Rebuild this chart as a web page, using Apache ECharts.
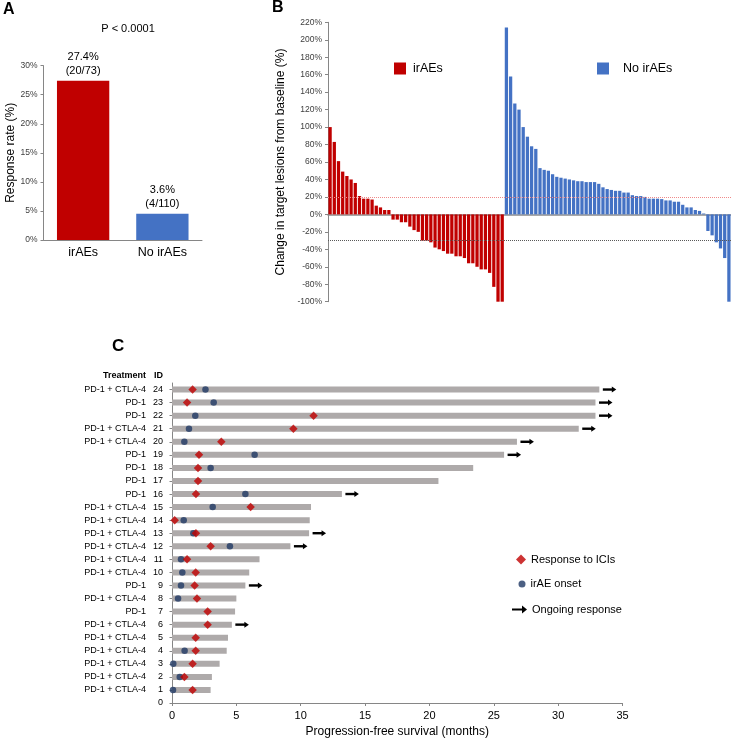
<!DOCTYPE html>
<html>
<head>
<meta charset="utf-8">
<script src="https://cdn.jsdelivr.net/npm/echarts@6/dist/echarts.min.js"></script>
<style>
html, body { margin: 0; padding: 0; background: #fff; }
#main { width: 731px; height: 742px; }
</style>
</head>
<body>
<div id="main"></div>
<script>
var FONT = '"Liberation Sans", Arial, sans-serif';
var RED = '#c00000', BLUE = '#4472c4', NAVY = '#1f3864', GRAY = '#aeaaaa', AXIS = '#868686';

// A: response rate
var rateCats = ['irAEs', 'No irAEs'];
var rateValues = [27.4, 4.5];
var rateLabels = ['27.4%', '3.6%'];
var rateCounts = ['(20/73)', '(4/110)'];

// B: waterfall, change in target lesions (%)
var changeIrAE = [100, 83, 61, 49, 44, 40, 36, 21, 18, 18, 17, 10, 8, 5, 5,
    -6, -6, -9, -9, -14, -18, -20, -30, -30, -32, -38, -40, -42, -45, -45,
    -48, -48, -50, -56, -56, -60, -63, -63, -67, -83, -100, -100];
var changeNoIrAE = [214, 158, 127, 120, 100, 89, 78, 75, 53, 51, 50, 46, 43, 42,
    41, 40, 39, 38, 38, 37, 37, 37, 35, 31, 29, 28, 27, 27, 25, 25, 22, 21, 21,
    20, 18, 18, 18, 17.5, 16, 16, 14.5, 14.5, 11, 8, 8, 5, 4, 1,
    -19, -24, -32, -39, -50, -100];
var refLines = [20, -30];

// C: swimmer plot
var patientIds = [1, 2, 3, 4, 5, 6, 7, 8, 9, 10, 11, 12, 13, 14, 15, 16, 17, 18, 19, 20, 21, 22, 23, 24];
var treatments = ['PD-1 + CTLA-4', 'PD-1 + CTLA-4', 'PD-1 + CTLA-4', 'PD-1 + CTLA-4',
    'PD-1 + CTLA-4', 'PD-1 + CTLA-4', 'PD-1', 'PD-1 + CTLA-4', 'PD-1', 'PD-1 + CTLA-4',
    'PD-1 + CTLA-4', 'PD-1 + CTLA-4', 'PD-1 + CTLA-4', 'PD-1 + CTLA-4', 'PD-1 + CTLA-4',
    'PD-1', 'PD-1', 'PD-1', 'PD-1', 'PD-1 + CTLA-4', 'PD-1 + CTLA-4', 'PD-1', 'PD-1', 'PD-1 + CTLA-4'];
var pfsMonths = [3.0, 3.1, 3.7, 4.25, 4.35, 4.65, 4.9, 5.0, 5.7, 6.0, 6.8, 9.2,
    10.65, 10.7, 10.8, 13.2, 20.7, 23.4, 25.8, 26.8, 31.6, 32.9, 32.9, 33.2];
var responseMonths = [1.6, 0.96, 1.6, 1.84, 1.84, 2.77, 2.77, 1.94, 1.76, 1.84, 1.17, 3.0,
    1.86, 0.21, 6.11, 1.86, 2.02, 2.02, 2.1, 3.83, 9.43, 11.0, 1.17, 1.6];
var iraeMonths = [0.08, 0.6, 0.1, 0.98, null, null, null, 0.47, 0.7, 0.8, 0.7, 4.5,
    1.66, 0.91, 3.16, 5.7, null, 3.0, 6.42, 0.96, 1.32, 1.81, 3.24, 2.6];
var ongoingIds = [24, 23, 22, 21, 20, 19, 16, 13, 12, 9, 6];
var idTicks = [0].concat(patientIds);

// build series data
var wfCats = [], wfRed = [], wfBlue = [];
changeIrAE.forEach(function (v) { wfCats.push(wfCats.length + 1); wfRed.push(v); wfBlue.push('-'); });
changeNoIrAE.forEach(function (v) { wfCats.push(wfCats.length + 1); wfRed.push('-'); wfBlue.push(v); });

var pfsData = [], respData = [], iraeData = [], arrowData = [];
for (var i = 0; i < patientIds.length; i++) {
    pfsData.push([pfsMonths[i], patientIds[i]]);
    respData.push([responseMonths[i], patientIds[i]]);
    if (iraeMonths[i] != null) iraeData.push([iraeMonths[i], patientIds[i]]);
}
ongoingIds.forEach(function (id) {
    arrowData.push([pfsMonths[patientIds.indexOf(id)], id]);
});

function renderPfs(params, api) {
    var a = api.coord([0, api.value(1)]);
    var b = api.coord([api.value(0), api.value(1)]);
    return {
        type: 'rect',
        shape: { x: a[0], y: a[1] - 3, width: b[0] - a[0], height: 6 },
        style: { fill: GRAY }
    };
}
function renderArrow(params, api) {
    var p = api.coord([api.value(0), api.value(1)]);
    var x0 = p[0] + 3.5, y = p[1], x1 = x0 + 13.5;
    return {
        type: 'group',
        children: [
            { type: 'line', shape: { x1: x0, y1: y, x2: x1 - 3, y2: y }, style: { stroke: '#000', lineWidth: 2.4 } },
            { type: 'polygon', shape: { points: [[x1 - 4.5, y - 3], [x1, y], [x1 - 4.5, y + 3]] }, style: { fill: '#000' } }
        ]
    };
}

var axisLine = { show: true, lineStyle: { color: AXIS, width: 1 } };
var chart = echarts.init(document.getElementById('main'), null, { renderer: 'canvas' });

var option = {
    backgroundColor: '#fff',
    animation: false,
    textStyle: { fontFamily: FONT },
    grid: [
        { left: 43.5, top: 65.7, width: 158.5, height: 174.3 },
        { left: 328, top: 22.3, width: 403, height: 279.4 },
        { left: 172, top: 383, width: 450.5, height: 320 }
    ],
    legend: [
        { data: ['irAEs'], left: 394, top: 62, padding: 0, itemWidth: 12, itemHeight: 12, icon: 'rect',
          textStyle: { fontFamily: FONT, fontSize: 12.5, color: '#000', padding: [0, 0, 0, 2] } },
        { data: ['No irAEs'], left: 597, top: 62, padding: 0, itemWidth: 12, itemHeight: 12, icon: 'rect',
          textStyle: { fontFamily: FONT, fontSize: 12.5, color: '#000', padding: [0, 0, 0, 9] } },
        { data: ['Response to ICIs'], left: 516, top: 554, padding: 0, itemWidth: 10, itemHeight: 10, icon: 'diamond',
          textStyle: { fontFamily: FONT, fontSize: 11, color: '#000' } },
        { data: ['irAE onset'], left: 518.5, top: 578.5, padding: 0, itemWidth: 7, itemHeight: 7, icon: 'circle',
          textStyle: { fontFamily: FONT, fontSize: 11, color: '#000' } },
        { data: ['Ongoing response'], left: 512, top: 604, padding: 0, itemWidth: 15, itemHeight: 8,
          icon: 'path://M0,3 L10,3 L10,0 L15,4 L10,8 L10,5 L0,5 Z',
          itemStyle: { color: '#000' },
          textStyle: { fontFamily: FONT, fontSize: 11, color: '#000' } }
    ],
    xAxis: [
        { gridIndex: 0, type: 'category', data: rateCats, axisLine: axisLine, axisTick: { show: false },
          axisLabel: { fontSize: 12.5, color: '#000', margin: 6 } },
        { gridIndex: 1, type: 'category', data: wfCats, axisLine: { show: true, onZero: true, lineStyle: { color: '#8c8c8c', width: 1.5 } },
          axisTick: { show: false }, axisLabel: { show: false } },
        { gridIndex: 2, type: 'value', min: 0, max: 35, interval: 5, axisLine: axisLine,
          axisTick: { show: true, length: 3, lineStyle: { color: AXIS } }, splitLine: { show: false },
          axisLabel: { fontSize: 11, color: '#000', margin: 7 },
          name: 'Progression-free survival (months)', nameLocation: 'middle', nameGap: 23,
          nameTextStyle: { fontSize: 12, color: '#000' } }
    ],
    yAxis: [
        { gridIndex: 0, type: 'value', min: 0, max: 30, interval: 5, axisLine: axisLine,
          axisTick: { show: true, length: 3, lineStyle: { color: AXIS } }, splitLine: { show: false },
          axisLabel: { fontSize: 8.5, color: '#404040', margin: 6, formatter: '{value}%' },
          name: 'Response rate (%)', nameLocation: 'middle', nameGap: 27,
          nameTextStyle: { fontSize: 12, color: '#000' } },
        { gridIndex: 1, type: 'value', min: -100, max: 220, interval: 20, axisLine: axisLine,
          axisTick: { show: true, length: 3, lineStyle: { color: AXIS } }, splitLine: { show: false },
          axisLabel: { fontSize: 8.5, color: '#404040', margin: 6, formatter: '{value}%' },
          name: 'Change in target lesions from baseline (%)', nameLocation: 'middle', nameGap: 35,
          nameTextStyle: { fontSize: 12, color: '#000' } },
        { gridIndex: 2, type: 'value', min: 0, max: 24.5, interval: 1, axisLine: axisLine,
          axisTick: { show: true, length: 2.5, customValues: idTicks, lineStyle: { color: AXIS } },
          splitLine: { show: false },
          axisLabel: {
              customValues: idTicks, margin: 9, fontSize: 9, color: '#000',
              formatter: function (v) {
                  var idx = patientIds.indexOf(v);
                  if (v === 0) return '{i|0}';
                  if (idx < 0) return '';
                  return '{t|' + treatments[idx] + '}{i|' + v + '}';
              },
              rich: {
                  t: { fontFamily: FONT, fontSize: 9, color: '#000', width: 80, align: 'right' },
                  i: { fontFamily: FONT, fontSize: 9, color: '#000', width: 17, align: 'right' }
              }
          } }
    ],
    series: [
        { type: 'bar', xAxisIndex: 0, yAxisIndex: 0, barCategoryGap: '34%',
          data: rateValues.map(function (v, i) { return { value: v, itemStyle: { color: i === 0 ? RED : BLUE } }; }),
          label: { show: true, position: 'top', distance: 3, fontSize: 11, lineHeight: 14, color: '#000',
                   formatter: function (p) { return rateLabels[p.dataIndex] + '\n' + rateCounts[p.dataIndex]; } } },
        { name: 'irAEs', type: 'bar', xAxisIndex: 1, yAxisIndex: 1, data: wfRed, barGap: '-100%', barCategoryGap: '22%',
          itemStyle: { color: RED },
          markLine: { silent: true, symbol: 'none', label: { show: false },
              data: [
                  { yAxis: refLines[0], lineStyle: { color: '#f08a8a', type: 'dotted', width: 1 } },
                  { yAxis: refLines[1], lineStyle: { color: '#595959', type: 'dotted', width: 1 } }
              ] } },
        { name: 'No irAEs', type: 'bar', xAxisIndex: 1, yAxisIndex: 1, data: wfBlue, barGap: '-100%', barCategoryGap: '22%',
          itemStyle: { color: BLUE } },
        { name: 'PFS', type: 'custom', xAxisIndex: 2, yAxisIndex: 2, data: pfsData, renderItem: renderPfs,
          encode: { x: 0, y: 1 }, z: 2 },
        { name: 'irAE onset', type: 'scatter', xAxisIndex: 2, yAxisIndex: 2, data: iraeData,
          symbol: 'circle', symbolSize: 6.5, itemStyle: { color: NAVY }, z: 3 },
        { name: 'Response to ICIs', type: 'scatter', xAxisIndex: 2, yAxisIndex: 2, data: respData,
          symbol: 'diamond', symbolSize: 8.5, itemStyle: { color: RED }, z: 4 },
        { name: 'Ongoing response', type: 'custom', xAxisIndex: 2, yAxisIndex: 2, data: arrowData,
          renderItem: renderArrow, encode: { x: 0, y: 1 }, itemStyle: { color: '#000' }, z: 3 }
    ],
    graphic: [
        { type: 'text', left: 3, top: 2, style: { text: 'A', font: 'bold 16px ' + FONT, fill: '#000' } },
        { type: 'text', left: 272, top: 0, style: { text: 'B', font: 'bold 16px ' + FONT, fill: '#000' } },
        { type: 'text', left: 112, top: 338, style: { text: 'C', font: 'bold 17px ' + FONT, fill: '#000' } },
        { type: 'text', x: 128, y: 29, style: { text: 'P < 0.0001', font: '11px ' + FONT, fill: '#000', align: 'center', verticalAlign: 'middle' } },
        { type: 'text', x: 146, y: 376, style: { text: 'Treatment', font: 'bold 9px ' + FONT, fill: '#000', align: 'right', verticalAlign: 'middle' } },
        { type: 'text', x: 163, y: 376, style: { text: 'ID', font: 'bold 9px ' + FONT, fill: '#000', align: 'right', verticalAlign: 'middle' } }
    ]
};
chart.setOption(option);
</script>
</body>
</html>
